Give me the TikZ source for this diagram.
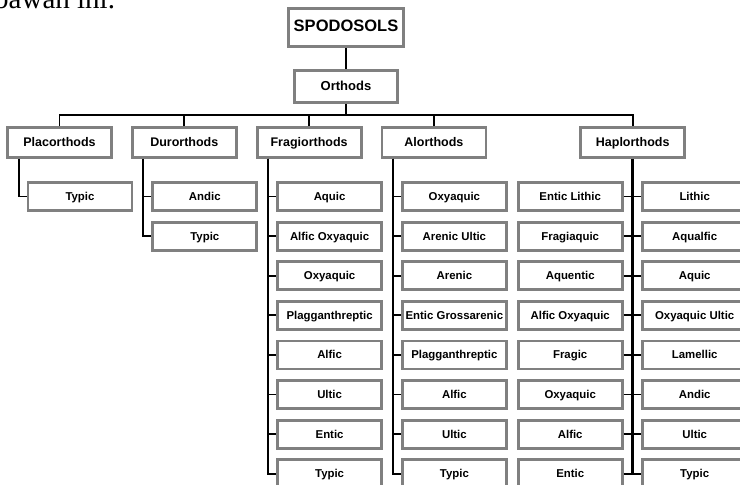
\documentclass[tikz,border=0pt]{standalone}
\usepackage{fontspec}
\setmainfont{Liberation Serif}
\setsansfont{Liberation Sans}
\usetikzlibrary{positioning,calc}
\tikzset{
  taxon/.style={
    rectangle, draw=black!50, line width=2.8pt, fill=white,
    inner sep=0pt, align=center, text height=.9em, text depth=.12em,
    font=\sffamily\bfseries
  },
  order/.style={taxon, minimum width=115pt, minimum height=38pt,
                font=\sffamily\bfseries\fontsize{16.5}{18}\selectfont},
  suborder/.style={taxon, minimum width=103pt, minimum height=32pt,
                   font=\sffamily\bfseries\fontsize{13}{15}\selectfont},
  grgroup/.style={taxon, minimum width=104pt, minimum height=30pt,
                  font=\sffamily\bfseries\fontsize{12.5}{14}\selectfont},
  subgroup/.style={taxon, minimum width=104pt, minimum height=28pt,
                   font=\sffamily\bfseries\fontsize{11.4}{13}\selectfont},
  link/.style={draw=black, line width=1.9pt},
  trunk/.style={draw=black, line width=3.2pt}
}

\begin{document}
\begin{tikzpicture}[x=1pt, y=-1pt, node distance=18pt]
  \useasboundingbox (0,0) rectangle (740,485);
  \clip (0,0) rectangle (740,485);

  % end of the page text above the chart
  \node[font=\rmfamily\fontsize{29}{30}\selectfont, anchor=base west, inner sep=0pt]
    (intro) at (-6,8.5) {bawah ini.};

  % order and suborder
  \node[order]    (spodo)   at (346,27.5) {SPODOSOLS};
  \node[suborder] (orthods) at (346,86.5) {Orthods};
  \coordinate (bar) at (346,115);

  % great groups
  \node[grgroup] (placo) at (59.5,142.5) {Placorthods};
  \node[grgroup, right=of placo]     (duro)  {Durorthods};
  \node[grgroup, right=of duro]      (fragi) {Fragiorthods};
  \node[grgroup, right=of fragi]     (alor)  {Alorthods};
  \node[grgroup, right=92pt of alor] (haplo) {Haplorthods};

  \draw[link] (spodo) -- (orthods);
  \draw[link] (orthods) -- (bar);
  \foreach \g in {placo,duro,fragi,alor,haplo}{
    \draw[link] (\g.north) |- (bar);
  }

  % subgroups
  \foreach \lbl [count=\i] in {Typic}
    \node[subgroup] (pl\i) at ($(placo)+(20.5,{54+39.6*(\i-1)})$) {\lbl};
  \foreach \lbl [count=\i] in {Andic, Typic}
    \node[subgroup] (du\i) at ($(duro)+(20.5,{54+39.6*(\i-1)})$) {\lbl};
  \foreach \lbl [count=\i] in {Aquic, Alfic Oxyaquic, Oxyaquic, Plagganthreptic,
                               Alfic, Ultic, Entic, Typic}
    \node[subgroup] (fr\i) at ($(fragi)+(20.5,{54+39.6*(\i-1)})$) {\lbl};
  \foreach \lbl [count=\i] in {Oxyaquic, Arenic Ultic, Arenic, Entic Grossarenic,
                               Plagganthreptic, Alfic, Ultic, Typic}
    \node[subgroup] (al\i) at ($(alor)+(20.5,{54+39.6*(\i-1)})$) {\lbl};

  \foreach \p/\c/\n in {placo/pl/1, duro/du/2, fragi/fr/8, alor/al/8}{
    \foreach \i in {1,...,\n}
      \draw[link] ([xshift=12.5pt]\p.south west) |- (\c\i.west);
  }

  % Haplorthods: two columns on one trunk
  \foreach \lbl [count=\i] in {Entic Lithic, Fragiaquic, Aquentic, Alfic Oxyaquic,
                               Fragic, Oxyaquic, Alfic, Entic}
    \node[subgroup] (hl\i) at ($(haplo)+(-62.5,{54+39.6*(\i-1)})$) {\lbl};
  \foreach \lbl [count=\i] in {Lithic, Aqualfic, Aquic, Oxyaquic Ultic,
                               Lamellic, Andic, Ultic, Typic}
    \node[subgroup] (hr\i) at ($(haplo)+(62,{54+39.6*(\i-1)})$) {\lbl};

  \coordinate (hapend) at (hl8.east -| haplo);
  \draw[trunk] (haplo.south) -- (hapend);
  \foreach \i in {1,...,8}
    \draw[link] (hl\i.east) -- (hr\i.west);
\end{tikzpicture}
\end{document}
